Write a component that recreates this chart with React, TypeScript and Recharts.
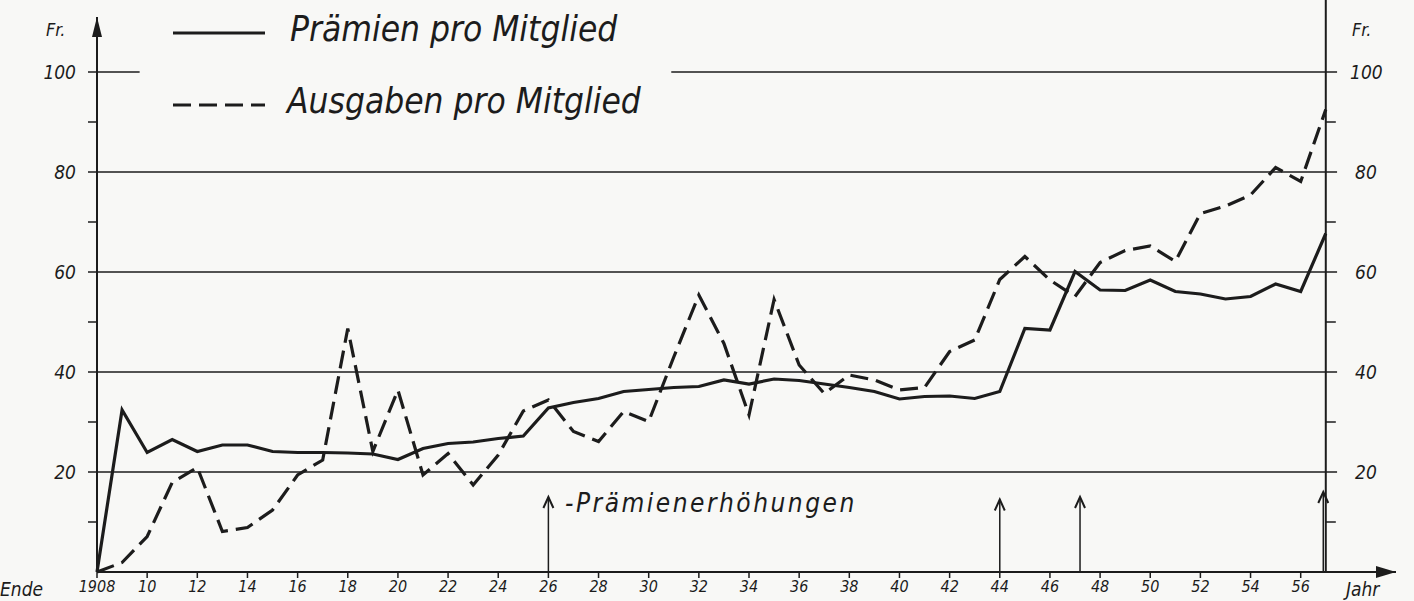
import { LineChart, Line, XAxis, YAxis, ReferenceLine, ReferenceDot } from "recharts";

// Jahr, Ende 1908 .. 1957
const years = [
  1908, 1909, 1910, 1911, 1912, 1913, 1914, 1915, 1916, 1917,
  1918, 1919, 1920, 1921, 1922, 1923, 1924, 1925, 1926, 1927,
  1928, 1929, 1930, 1931, 1932, 1933, 1934, 1935, 1936, 1937,
  1938, 1939, 1940, 1941, 1942, 1943, 1944, 1945, 1946, 1947,
  1948, 1949, 1950, 1951, 1952, 1953, 1954, 1955, 1956, 1957,
];

// Prämien pro Mitglied (Fr.)
const praemien = [
  0, 32.4, 23.9, 26.5, 24.1, 25.4, 25.4, 24.1, 23.9, 23.9,
  23.8, 23.6, 22.5, 24.7, 25.7, 26.0, 26.7, 27.2, 32.8, 33.9,
  34.7, 36.1, 36.5, 36.9, 37.1, 38.4, 37.6, 38.6, 38.3, 37.6,
  36.9, 36.1, 34.6, 35.1, 35.2, 34.7, 36.1, 48.7, 48.4, 60.1,
  56.4, 56.3, 58.4, 56.1, 55.6, 54.6, 55.1, 57.6, 56.1, 67.7,
];

// Ausgaben pro Mitglied (Fr.)
const ausgaben = [
  0, 1.9, 7.1, 17.9, 20.9, 8.1, 8.9, 12.4, 19.4, 22.4,
  48.7, 24.1, 36.4, 19.4, 23.7, 17.4, 23.4, 32.2, 34.4, 28.1,
  26.1, 32.1, 30.1, 43.0, 55.4, 45.7, 31.4, 54.5, 41.4, 35.7,
  39.4, 38.4, 36.4, 36.9, 44.1, 46.4, 58.5, 63.1, 58.4, 55.1,
  61.9, 64.3, 65.2, 62.1, 71.7, 73.2, 75.4, 80.9, 78.1, 92.5,
];

const yearTicks = [
  1908, 1910, 1912, 1914, 1916, 1918, 1920, 1922, 1924, 1926, 1928, 1930, 1932,
  1934, 1936, 1938, 1940, 1942, 1944, 1946, 1948, 1950, 1952, 1954, 1956,
];
const yTicks = [10, 20, 30, 40, 50, 60, 70, 80, 90, 100];
const majorLevels = [20, 40, 60, 80];
const minorLevels = [10, 30, 50, 70, 90];

// Prämienerhöhungen
const raiseYears = [1926, 1944, 1947.2, 1956.9];
const raiseTops = [15, 14.5, 15, 16];

const data = years.map((year, i) => ({
  year,
  praemien: praemien[i],
  ausgaben: ausgaben[i],
}));

const INK = "#1c1c1c";
const FONT = "'DejaVu Sans Condensed', 'DejaVu Sans', sans-serif";

const fmtYear = (v: number) => (v === 1908 ? "1908" : String(v % 100));

const ArrowUp = (props: any) => {
  const { cx, cy } = props;
  return (
    <path
      d={`M${cx - 5},${cy + 11} L${cx},${cy} L${cx + 5},${cy + 11}`}
      fill="none"
      stroke={INK}
      strokeWidth={2}
    />
  );
};

const ArrowRight = (props: any) => {
  const { cx, cy } = props;
  return <path d={`M${cx - 20},${cy - 6} L${cx},${cy} L${cx - 20},${cy + 6} Z`} fill={INK} />;
};

const AxisTip = (props: any) => {
  const { cx, cy } = props;
  return <path d={`M${cx - 5},${cy + 20} L${cx},${cy} L${cx + 5},${cy + 20} Z`} fill={INK} />;
};

const textStyle = {
  position: "absolute" as const,
  fontFamily: FONT,
  fontStyle: "italic" as const,
  color: INK,
  lineHeight: 1,
  whiteSpace: "nowrap" as const,
};

const axisLabel = { fill: INK, fontSize: 19, fontStyle: "italic", fontFamily: FONT };

export default function App() {
  return (
    <div
      style={{
        position: "absolute",
        left: 0,
        top: 0,
        width: 1414,
        height: 601,
        background: "#f8f8f6",
        overflow: "hidden",
      }}
    >
      <LineChart
        width={1414}
        height={601}
        data={data}
        margin={{ top: 17, right: 18, left: 37, bottom: 0 }}
      >
        <XAxis
          dataKey="year"
          type="number"
          domain={[1908, 1959.8]}
          ticks={yearTicks}
          tickFormatter={fmtYear}
          height={29}
          tickSize={6}
          tickMargin={3}
          axisLine={{ stroke: INK, strokeWidth: 2 }}
          tickLine={{ stroke: INK, strokeWidth: 1.5 }}
          tick={{ fill: INK, fontSize: 16, fontStyle: "italic", fontFamily: FONT }}
        />
        <YAxis
          type="number"
          domain={[0, 111]}
          ticks={yTicks}
          width={60}
          tickSize={9}
          tickMargin={12}
          tickFormatter={(v: number) => (v % 20 === 0 ? String(v) : "")}
          axisLine={{ stroke: INK, strokeWidth: 2 }}
          tickLine={{ stroke: INK, strokeWidth: 1.5 }}
          tick={axisLabel}
        />

        {majorLevels.map((v) => (
          <ReferenceLine
            key={`g${v}`}
            segment={[{ x: 1908, y: v }, { x: 1957.45, y: v }]}
            stroke={INK}
            strokeWidth={1.5}
            label={{ value: String(v), position: "right", offset: 18, ...axisLabel }}
          />
        ))}
        <ReferenceLine
          segment={[{ x: 1908, y: 100 }, { x: 1909.7, y: 100 }]}
          stroke={INK}
          strokeWidth={1.5}
        />
        <ReferenceLine
          segment={[{ x: 1930.9, y: 100 }, { x: 1957.45, y: 100 }]}
          stroke={INK}
          strokeWidth={1.5}
          label={{ value: "100", position: "right", offset: 13, ...axisLabel }}
        />
        {minorLevels.map((v) => (
          <ReferenceLine
            key={`m${v}`}
            segment={[{ x: 1957, y: v }, { x: 1957.4, y: v }]}
            stroke={INK}
            strokeWidth={1.5}
          />
        ))}

        {/* right axis */}
        <ReferenceLine
          segment={[{ x: 1957, y: 0 }, { x: 1957, y: 115 }]}
          stroke={INK}
          strokeWidth={2}
          ifOverflow="visible"
        />

        {raiseYears.map((yr, i) => (
          <ReferenceLine
            key={`r${yr}`}
            segment={[{ x: yr, y: 0 }, { x: yr, y: raiseTops[i] }]}
            stroke={INK}
            strokeWidth={1.5}
          />
        ))}
        {raiseYears.map((yr, i) => (
          <ReferenceDot
            key={`ra${yr}`}
            x={yr}
            y={raiseTops[i]}
            r={0}
            shape={ArrowUp}
            ifOverflow="visible"
          />
        ))}

        <ReferenceDot x={1959.8} y={0} r={0} shape={ArrowRight} ifOverflow="visible" />
        <ReferenceDot x={1908} y={111} r={0} shape={AxisTip} ifOverflow="visible" />

        <Line
          type="linear"
          dataKey="praemien"
          stroke={INK}
          strokeWidth={3.2}
          dot={false}
          isAnimationActive={false}
        />
        <Line
          type="linear"
          dataKey="ausgaben"
          stroke={INK}
          strokeWidth={3.2}
          strokeDasharray="18 8"
          dot={false}
          isAnimationActive={false}
        />
      </LineChart>

      {/* legend */}
      <svg style={{ position: "absolute", left: 0, top: 0 }} width={1414} height={130}>
        <line x1={173} y1={33} x2={265} y2={33} stroke={INK} strokeWidth={3} />
        <line x1={173} y1={105} x2={265} y2={105} stroke={INK} strokeWidth={3} strokeDasharray="18 8" />
      </svg>
      <div style={{ ...textStyle, left: 290, top: 12, fontSize: 35, fontWeight: 500 }}>
        Prämien pro Mitglied
      </div>
      <div style={{ ...textStyle, left: 287, top: 84, fontSize: 35, fontWeight: 500 }}>
        Ausgaben pro Mitglied
      </div>

      <div style={{ ...textStyle, left: 46, top: 21, fontSize: 18 }}>Fr.</div>
      <div style={{ ...textStyle, left: 1352, top: 21, fontSize: 18 }}>Fr.</div>
      <div style={{ ...textStyle, left: 0, top: 580, fontSize: 19 }}>Ende</div>
      <div style={{ ...textStyle, left: 1346, top: 580, fontSize: 19 }}>Jahr</div>
      <div style={{ ...textStyle, left: 565, top: 490, fontSize: 26, letterSpacing: 2.5 }}>
        -Prämienerhöhungen
      </div>
    </div>
  );
}
